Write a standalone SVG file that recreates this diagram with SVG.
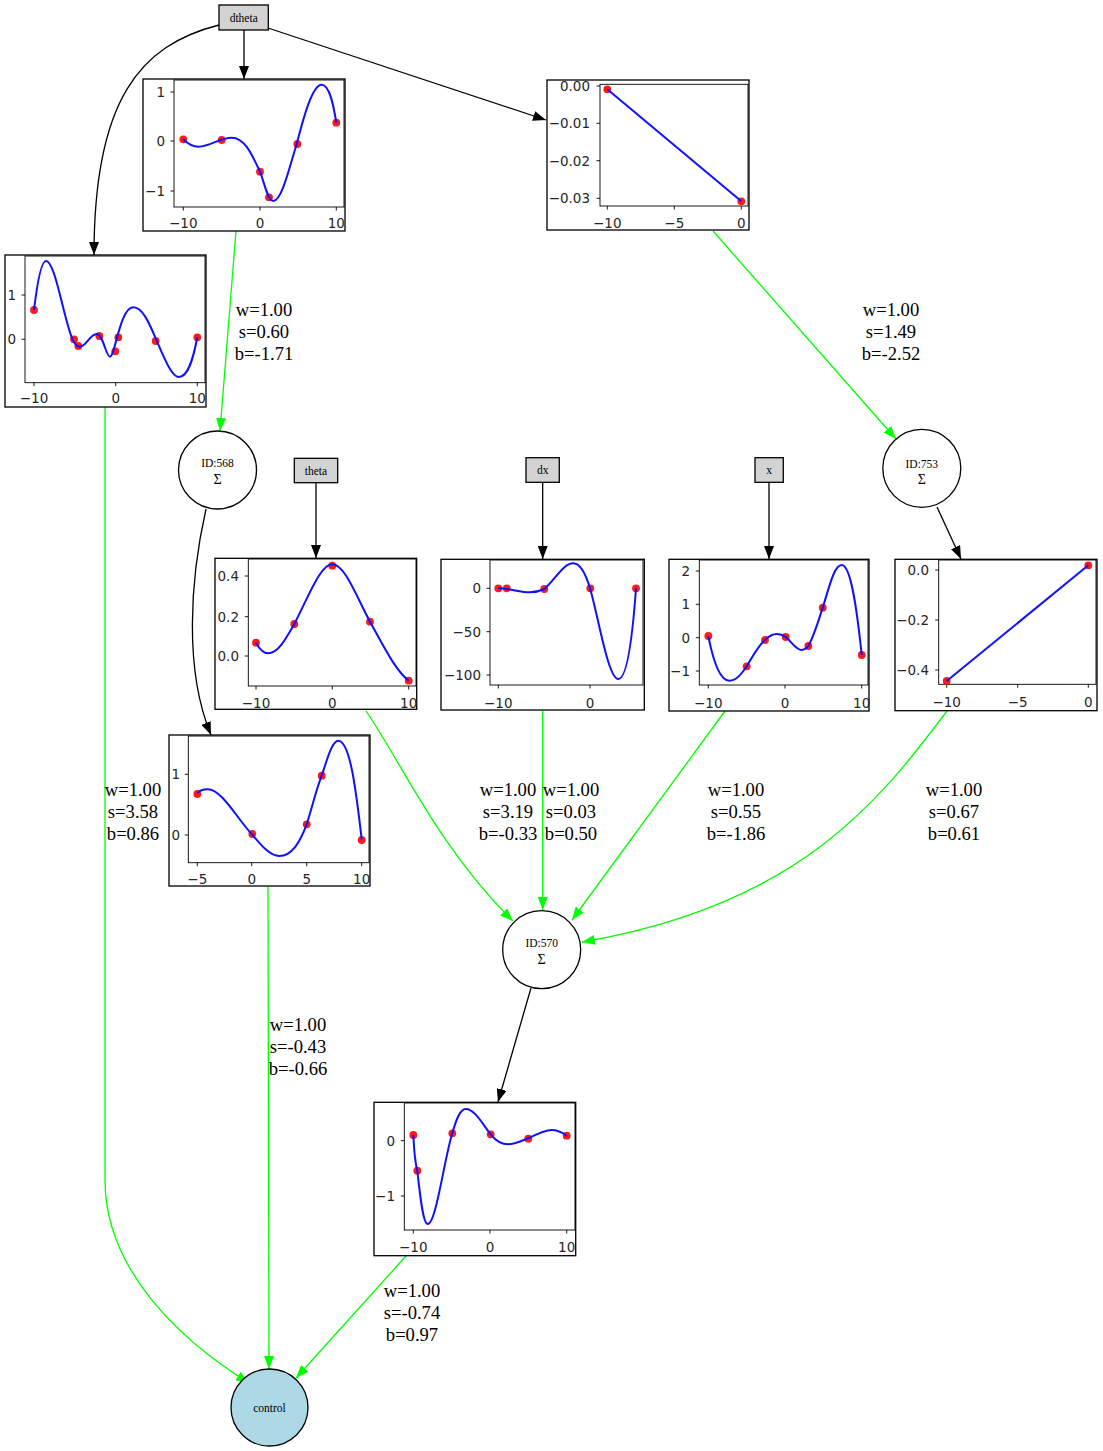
<svg xmlns="http://www.w3.org/2000/svg" width="1103" height="1451" viewBox="0 0 1103 1451">
<style>
  .bg{fill:#ffffff}
  .inp rect{fill:#d3d3d3;stroke:#000;stroke-width:1.3}
  .sum circle{fill:#fff;stroke:#000;stroke-width:1.3}
  .out circle{fill:#add8e6;stroke:#000;stroke-width:1.3}
  .nl{font-family:"Liberation Serif","Times New Roman",serif;font-size:11.5px;fill:#000;text-anchor:middle}
  .sg{font-family:"Liberation Serif","DejaVu Serif",serif;font-size:14px;fill:#000;text-anchor:middle}
  .frame{fill:#fff;stroke:#000;stroke-width:1.3}
  .ax{fill:none;stroke:#000;stroke-width:0.9}
  .tk{stroke:#000;stroke-width:0.9}
  .tl{font-family:"DejaVu Sans",sans-serif;font-size:13.5px;fill:#262626}
  .ty{text-anchor:end}
  .tx{text-anchor:middle}
  .crv{fill:none;stroke:#1010ff;stroke-width:2;stroke-linejoin:round}
  .pt{fill:#ff0000;fill-opacity:0.9}
  .eb{fill:none;stroke:#000;stroke-width:1.3}
  .eg{fill:none;stroke:#00ff00;stroke-width:1.3}
  .el{font-family:"Liberation Serif","Times New Roman",serif;font-size:18.6px;fill:#000;text-anchor:middle}
</style>
<defs>
  <marker id="ab" markerUnits="userSpaceOnUse" markerWidth="14" markerHeight="10" refX="13" refY="5" orient="auto">
    <path d="M0,0 L13,5 L0,10 z" fill="#000"/>
  </marker>
  <marker id="ag" markerUnits="userSpaceOnUse" markerWidth="14" markerHeight="10" refX="13" refY="5" orient="auto">
    <path d="M0,0 L13,5 L0,10 z" fill="#00ff00"/>
  </marker>
</defs>
<rect class="bg" x="0" y="0" width="1103" height="1451"/>

<!-- connectors -->
<g id="edges">
  <path class="eb" marker-end="url(#ab)" d="M219,25 C140,45 94,100 94,255"/>
  <path class="eb" marker-end="url(#ab)" d="M244,30 L244,79"/>
  <path class="eb" marker-end="url(#ab)" d="M268,28 L546,120"/>
  <path class="eb" marker-end="url(#ab)" d="M206,509 C190,580 184,670 211,735"/>
  <path class="eb" marker-end="url(#ab)" d="M937,507 L961,559"/>
  <path class="eb" marker-end="url(#ab)" d="M531,988 L498,1102"/>
  <path class="eb" marker-end="url(#ab)" d="M316,483 L316,558"/>
  <path class="eb" marker-end="url(#ab)" d="M542.7,482 L542.7,559"/>
  <path class="eb" marker-end="url(#ab)" d="M769,482 L769,559"/>

  <path class="eg" marker-end="url(#ag)" d="M236,231 L220,431"/>
  <path class="eg" marker-end="url(#ag)" d="M713,231 L896,439"/>
  <path class="eg" marker-end="url(#ag)" d="M105,407 L105,1180 C105,1270 180,1340 249,1383"/>
  <path class="eg" marker-end="url(#ag)" d="M366,711 C400,760 440,850 513,921"/>
  <path class="eg" marker-end="url(#ag)" d="M542.7,711 L542.7,910"/>
  <path class="eg" marker-end="url(#ag)" d="M725,711 L572,920"/>
  <path class="eg" marker-end="url(#ag)" d="M947,711 C880,800 800,905 582,942"/>
  <path class="eg" marker-end="url(#ag)" d="M268,886 L269,1369"/>
  <path class="eg" marker-end="url(#ag)" d="M406,1256 L296,1378"/>

  <text class="el" x="264" y="316">w=1.00</text>
  <text class="el" x="264" y="338">s=0.60</text>
  <text class="el" x="264" y="360">b=-1.71</text>

  <text class="el" x="891" y="316">w=1.00</text>
  <text class="el" x="891" y="338">s=1.49</text>
  <text class="el" x="891" y="360">b=-2.52</text>

  <text class="el" x="133" y="796">w=1.00</text>
  <text class="el" x="133" y="818">s=3.58</text>
  <text class="el" x="133" y="840">b=0.86</text>

  <text class="el" x="508" y="796">w=1.00</text>
  <text class="el" x="508" y="818">s=3.19</text>
  <text class="el" x="508" y="840">b=-0.33</text>

  <text class="el" x="571" y="796">w=1.00</text>
  <text class="el" x="571" y="818">s=0.03</text>
  <text class="el" x="571" y="840">b=0.50</text>

  <text class="el" x="736" y="796">w=1.00</text>
  <text class="el" x="736" y="818">s=0.55</text>
  <text class="el" x="736" y="840">b=-1.86</text>

  <text class="el" x="954" y="796">w=1.00</text>
  <text class="el" x="954" y="818">s=0.67</text>
  <text class="el" x="954" y="840">b=0.61</text>

  <text class="el" x="298" y="1031">w=1.00</text>
  <text class="el" x="298" y="1053">s=-0.43</text>
  <text class="el" x="298" y="1075">b=-0.66</text>

  <text class="el" x="412" y="1297">w=1.00</text>
  <text class="el" x="412" y="1319">s=-0.74</text>
  <text class="el" x="412" y="1341">b=0.97</text>
</g>

<!-- input nodes -->
<g id="in_dtheta" class="inp">
  <rect x="219" y="5" width="49.3" height="25"/>
  <text class="nl" x="243.7" y="21.5">dtheta</text>
</g>
<g id="in_theta" class="inp">
  <rect x="294.3" y="458.3" width="43.4" height="24.4"/>
  <text class="nl" x="316" y="474.5">theta</text>
</g>
<g id="in_dx" class="inp">
  <rect x="526" y="457.7" width="33.3" height="24.6"/>
  <text class="nl" x="542.7" y="474">dx</text>
</g>
<g id="in_x" class="inp">
  <rect x="755" y="457.7" width="28.3" height="24.6"/>
  <text class="nl" x="769" y="474">x</text>
</g>

<!-- sum nodes -->
<g id="sum_568" class="sum">
  <circle cx="217.5" cy="470" r="39"/>
  <text class="nl" x="217.5" y="467">ID:568</text>
  <text class="sg" x="217.5" y="483.5">Σ</text>
</g>
<g id="sum_753" class="sum">
  <circle cx="921.8" cy="468.3" r="39"/>
  <text class="nl" x="921.8" y="467.5">ID:753</text>
  <text class="sg" x="921.8" y="483.5">Σ</text>
</g>
<g id="sum_570" class="sum">
  <circle cx="541.7" cy="949.7" r="39"/>
  <text class="nl" x="541.7" y="947">ID:570</text>
  <text class="sg" x="541.7" y="963.5">Σ</text>
</g>

<!-- output node -->
<g id="out_control" class="out">
  <circle cx="269.5" cy="1407.5" r="38.5"/>
  <text class="nl" x="269.5" y="1411.5">control</text>
</g>

<!-- activation plot: dtheta (spline) -->
<g id="plot_dtheta_a">
  <rect class="frame" x="143" y="79" width="202" height="152"/>
  <rect class="ax" x="174" y="80" width="170" height="127"/>
  <path class="tk" d="M174,92 h-3.5 M174,141 h-3.5 M174,191 h-3.5 M183.3,207 v3.5 M260,207 v3.5 M336.3,207 v3.5"/>
  <text class="tl ty" x="165" y="96.8">1</text>
  <text class="tl ty" x="165" y="145.8">0</text>
  <text class="tl ty" x="165" y="195.8">−1</text>
  <text class="tl tx" x="183.3" y="228">−10</text>
  <text class="tl tx" x="260" y="228">0</text>
  <text class="tl tx" x="336.3" y="228">10</text>
  <circle class="pt" cx="183.3" cy="139.3" r="3.9"/>
  <circle class="pt" cx="221.7" cy="140" r="3.9"/>
  <circle class="pt" cx="260" cy="171.7" r="3.9"/>
  <circle class="pt" cx="269" cy="197.3" r="3.9"/>
  <circle class="pt" cx="297.3" cy="144" r="3.9"/>
  <circle class="pt" cx="336.3" cy="122.7" r="3.9"/>
  <path class="crv" d="M183.3,139.3 C188,144 193,146.7 198.3,146.7 C210,146.7 220,137.7 231.7,137.7 C245,137.7 252,155 260,171.7 C265,185 268,201 273.3,201 C282,201 290,165 296.7,144 C303,120 312,84.7 321.7,84.7 C330,84.7 334,108 336.3,122.7"/>
</g>

<!-- activation plot: dtheta (linear) -->
<g id="plot_dtheta_b">
  <rect class="frame" x="547" y="80" width="202" height="150"/>
  <rect class="ax" x="600" y="84.3" width="148" height="121.7"/>
  <path class="tk" d="M600,86 h-3.5 M600,123.3 h-3.5 M600,160.7 h-3.5 M600,198.3 h-3.5 M607.3,206 v3.5 M674.3,206 v3.5 M741.3,206 v3.5"/>
  <text class="tl ty" x="590" y="90.8">0.00</text>
  <text class="tl ty" x="590" y="128.1">−0.01</text>
  <text class="tl ty" x="590" y="165.5">−0.02</text>
  <text class="tl ty" x="590" y="203.1">−0.03</text>
  <text class="tl tx" x="607.3" y="227.5">−10</text>
  <text class="tl tx" x="674.3" y="227.5">−5</text>
  <text class="tl tx" x="741.3" y="227.5">0</text>
  <circle class="pt" cx="607.3" cy="89.3" r="3.9"/>
  <circle class="pt" cx="741.3" cy="201.3" r="3.9"/>
  <path class="crv" d="M607.3,89.3 L741.3,201.3"/>
</g>

<!-- activation plot: dtheta (left) -->
<g id="plot_dtheta_c">
  <rect class="frame" x="5" y="255" width="201" height="152"/>
  <rect class="ax" x="25" y="256" width="180" height="126.7"/>
  <path class="tk" d="M25,295 h-3.5 M25,339.3 h-3.5 M34,382.7 v3.5 M115.7,382.7 v3.5 M197.3,382.7 v3.5"/>
  <text class="tl ty" x="16" y="299.8">1</text>
  <text class="tl ty" x="16" y="344.1">0</text>
  <text class="tl tx" x="34" y="403">−10</text>
  <text class="tl tx" x="115.7" y="403">0</text>
  <text class="tl tx" x="197.3" y="403">10</text>
  <circle class="pt" cx="34" cy="310" r="3.9"/>
  <circle class="pt" cx="74" cy="339.3" r="3.9"/>
  <circle class="pt" cx="78.3" cy="346" r="3.9"/>
  <circle class="pt" cx="99.3" cy="336" r="3.9"/>
  <circle class="pt" cx="115.3" cy="351.3" r="3.9"/>
  <circle class="pt" cx="118.3" cy="337.3" r="3.9"/>
  <circle class="pt" cx="155.7" cy="341" r="3.9"/>
  <circle class="pt" cx="197.3" cy="337.3" r="3.9"/>
  <path class="crv" d="M34,310 C37,285 41,261 46,261 C55,261 63,315 71.7,337.3 C74,343 77,346.7 80,346.7 C86,346.7 90,334 96.7,334 C103,334 106,356.7 110,356.7 C115,356.7 120,307.3 133.3,307.3 C143,307.3 150,325 156.7,340.7 C165,360 172,377 179,377 C188,377 193,360 197.3,337.3"/>
</g>

<!-- activation plot: theta -->
<g id="plot_theta">
  <rect class="frame" x="215" y="558.3" width="201.7" height="151"/>
  <rect class="ax" x="248.3" y="559" width="167.7" height="127"/>
  <path class="tk" d="M248.3,576 h-3.5 M248.3,616.7 h-3.5 M248.3,656 h-3.5 M256,686 v3.5 M332.3,686 v3.5 M408.7,686 v3.5"/>
  <text class="tl ty" x="239" y="580.8">0.4</text>
  <text class="tl ty" x="239" y="621.5">0.2</text>
  <text class="tl ty" x="239" y="660.8">0.0</text>
  <text class="tl tx" x="256" y="708">−10</text>
  <text class="tl tx" x="332.3" y="708">0</text>
  <text class="tl tx" x="408.7" y="708">10</text>
  <circle class="pt" cx="256" cy="642.7" r="3.9"/>
  <circle class="pt" cx="294.3" cy="624" r="3.9"/>
  <circle class="pt" cx="332.3" cy="565.7" r="3.9"/>
  <circle class="pt" cx="370" cy="621.7" r="3.9"/>
  <circle class="pt" cx="408.7" cy="680.7" r="3.9"/>
  <path class="crv" d="M256,642.7 C260,650 264,653.3 268.3,653.3 C278,653.3 285,640 294.3,624 C308,598 320,564.3 332.3,564.3 C345,564.3 357,598 370,621.7 C383,645 395,670 408.7,680.7"/>
</g>

<!-- activation plot: dx -->
<g id="plot_dx">
  <rect class="frame" x="441" y="559.3" width="203.3" height="150.7"/>
  <rect class="ax" x="490" y="560" width="153" height="125"/>
  <path class="tk" d="M490,588.3 h-3.5 M490,631.7 h-3.5 M490,675 h-3.5 M498.3,685 v3.5 M590,685 v3.5"/>
  <text class="tl ty" x="481" y="593.1">0</text>
  <text class="tl ty" x="481" y="636.5">−50</text>
  <text class="tl ty" x="481" y="679.8">−100</text>
  <text class="tl tx" x="498.3" y="708">−10</text>
  <text class="tl tx" x="590" y="708">0</text>
  <circle class="pt" cx="498.3" cy="588.3" r="3.9"/>
  <circle class="pt" cx="506.7" cy="588.3" r="3.9"/>
  <circle class="pt" cx="544.3" cy="589" r="3.9"/>
  <circle class="pt" cx="590.3" cy="588.3" r="3.9"/>
  <circle class="pt" cx="636" cy="588.3" r="3.9"/>
  <path class="crv" d="M498.3,588.3 C510,588.5 520,592.3 530,592.3 C537,592.3 540,591 544.3,589 C555,580 563,563.3 573.3,563.3 C581,563.3 586,575 590,588.3 C598,615 608,679 618.3,679 C628,679 633,630 636,588.3"/>
</g>

<!-- activation plot: x -->
<g id="plot_x">
  <rect class="frame" x="669" y="559.3" width="200" height="151.7"/>
  <rect class="ax" x="699.3" y="560" width="168.7" height="125"/>
  <path class="tk" d="M699.3,571 h-3.5 M699.3,604.3 h-3.5 M699.3,637.7 h-3.5 M699.3,671 h-3.5 M708.3,685 v3.5 M785,685 v3.5 M861.7,685 v3.5"/>
  <text class="tl ty" x="690" y="575.8">2</text>
  <text class="tl ty" x="690" y="609.1">1</text>
  <text class="tl ty" x="690" y="642.5">0</text>
  <text class="tl ty" x="690" y="675.8">−1</text>
  <text class="tl tx" x="708.3" y="708">−10</text>
  <text class="tl tx" x="785" y="708">0</text>
  <text class="tl tx" x="861.7" y="708">10</text>
  <circle class="pt" cx="708.3" cy="636" r="3.9"/>
  <circle class="pt" cx="746.7" cy="666.3" r="3.9"/>
  <circle class="pt" cx="765" cy="640" r="3.9"/>
  <circle class="pt" cx="785.7" cy="637" r="3.9"/>
  <circle class="pt" cx="808.3" cy="646" r="3.9"/>
  <circle class="pt" cx="822.7" cy="607.7" r="3.9"/>
  <circle class="pt" cx="861.7" cy="655" r="3.9"/>
  <path class="crv" d="M708.3,636 C713,660 720,680.7 729.3,680.7 C737,680.7 742,673 746.7,666.3 C753,656 758,646 765,640 C769,636 772,634 776.7,634 C781,634 783,635 785.7,637 C792,642 796,650 801.7,650 C804,650 806,649 808.3,646 C814,636 818,622 822.7,607.7 C829,588 834,565 841.7,565 C851,565 857,610 861.7,655"/>
</g>

<!-- activation plot: node 753 -->
<g id="plot_753">
  <rect class="frame" x="895" y="559.3" width="202" height="151.4"/>
  <rect class="ax" x="938.7" y="560" width="157.3" height="124.3"/>
  <path class="tk" d="M938.7,570 h-3.5 M938.7,620 h-3.5 M938.7,670 h-3.5 M946.7,684.3 v3.5 M1017.7,684.3 v3.5 M1088.3,684.3 v3.5"/>
  <text class="tl ty" x="929" y="574.8">0.0</text>
  <text class="tl ty" x="929" y="624.8">−0.2</text>
  <text class="tl ty" x="929" y="674.8">−0.4</text>
  <text class="tl tx" x="946.7" y="707">−10</text>
  <text class="tl tx" x="1017.7" y="707">−5</text>
  <text class="tl tx" x="1088.3" y="707">0</text>
  <circle class="pt" cx="946.7" cy="681" r="3.9"/>
  <circle class="pt" cx="1088.3" cy="565.3" r="3.9"/>
  <path class="crv" d="M946.7,681 L1088.3,565.3"/>
</g>

<!-- activation plot: node 568 -->
<g id="plot_568">
  <rect class="frame" x="169" y="735" width="201" height="151"/>
  <rect class="ax" x="188.3" y="736" width="180.7" height="126.7"/>
  <path class="tk" d="M188.3,774.3 h-3.5 M188.3,835 h-3.5 M197.3,862.7 v3.5 M251.7,862.7 v3.5 M306.7,862.7 v3.5 M361.7,862.7 v3.5"/>
  <text class="tl ty" x="180" y="779.1">1</text>
  <text class="tl ty" x="180" y="839.8">0</text>
  <text class="tl tx" x="197.3" y="883.5">−5</text>
  <text class="tl tx" x="251.7" y="883.5">0</text>
  <text class="tl tx" x="306.7" y="883.5">5</text>
  <text class="tl tx" x="361.7" y="883.5">10</text>
  <circle class="pt" cx="197.3" cy="794" r="3.9"/>
  <circle class="pt" cx="252.3" cy="834" r="3.9"/>
  <circle class="pt" cx="306.7" cy="824.3" r="3.9"/>
  <circle class="pt" cx="321.7" cy="775.7" r="3.9"/>
  <circle class="pt" cx="361.7" cy="840" r="3.9"/>
  <path class="crv" d="M197.3,793.3 C200,790 204,789.3 207.7,789.3 C222,789.3 238,820 251.7,834 C261,845 270,856 279.3,856 C292,856 300,842 306.7,824.3 C312,808 316,790 321.7,775.7 C327,760 332,740.7 338.3,740.7 C350,740.7 356,790 361.7,839.3"/>
</g>

<!-- activation plot: node 570 -->
<g id="plot_570">
  <rect class="frame" x="374" y="1102.3" width="201.7" height="153.4"/>
  <rect class="ax" x="404.3" y="1103" width="170.7" height="127"/>
  <path class="tk" d="M404.3,1140.7 h-3.5 M404.3,1196 h-3.5 M413.3,1230 v3.5 M490,1230 v3.5 M566.7,1230 v3.5"/>
  <text class="tl ty" x="395" y="1145.5">0</text>
  <text class="tl ty" x="395" y="1200.8">−1</text>
  <text class="tl tx" x="413.3" y="1252">−10</text>
  <text class="tl tx" x="490" y="1252">0</text>
  <text class="tl tx" x="566.7" y="1252">10</text>
  <circle class="pt" cx="413.3" cy="1135" r="3.9"/>
  <circle class="pt" cx="417.3" cy="1170.7" r="3.9"/>
  <circle class="pt" cx="452.3" cy="1133.3" r="3.9"/>
  <circle class="pt" cx="490.7" cy="1134.3" r="3.9"/>
  <circle class="pt" cx="528.3" cy="1138.7" r="3.9"/>
  <circle class="pt" cx="566.7" cy="1135.7" r="3.9"/>
  <path class="crv" d="M413.3,1135 C414,1150 415,1162 417.3,1170.7 C420,1195 423,1224 427.7,1224 C436,1224 444,1160 452.3,1133.3 C456,1120 460,1109 465.7,1109 C475,1109 483,1125 490.7,1134.3 C496,1141 501,1144.3 508.3,1144.3 C515,1144.3 521,1141 528.3,1138.3 C537,1134 545,1130 551.7,1130 C558,1130 563,1133 566.7,1135.7"/>
</g>
</svg>
